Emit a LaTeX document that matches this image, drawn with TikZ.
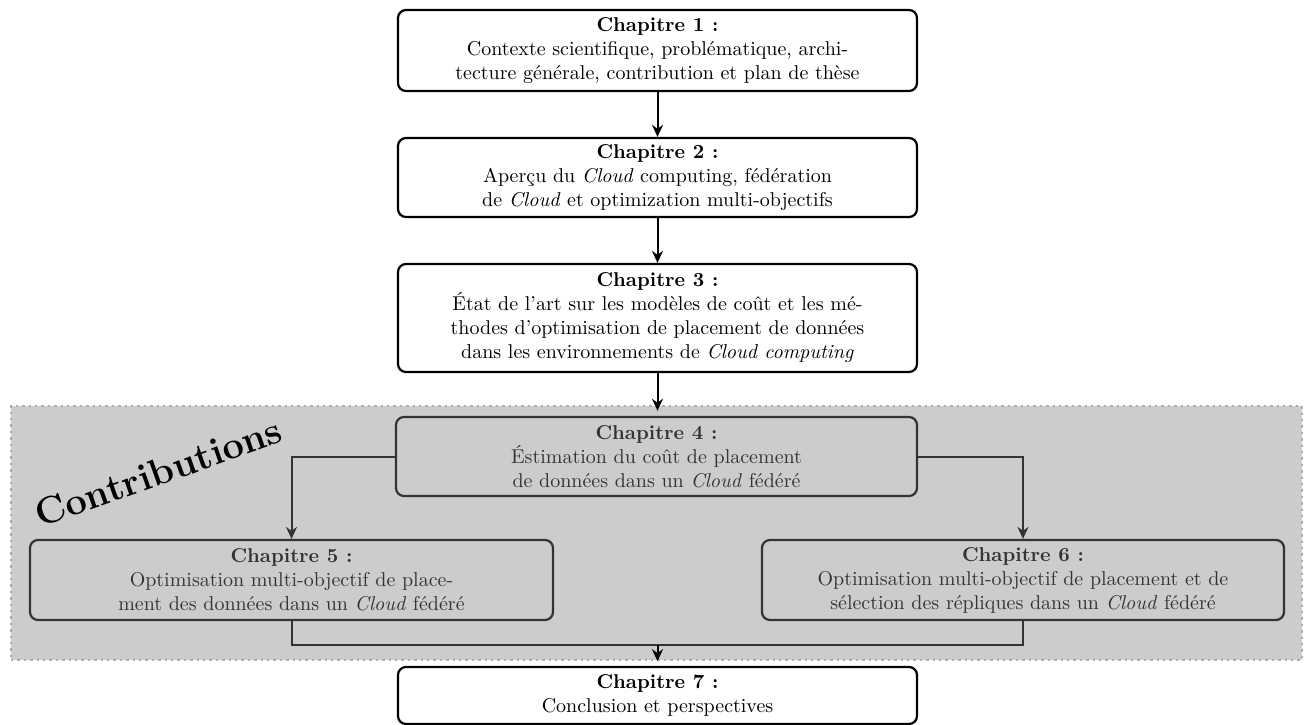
\documentclass[tikz,border=0pt]{standalone}
\usepackage{fontspec}
\usetikzlibrary{arrows.meta}

\tikzset{
  chapbox/.style={draw=black, line width=1.1pt, rounded corners=4pt, fill=white,
    align=center, inner sep=2pt},
  link/.style={line width=1pt, -{Stealth[length=6pt,width=5.5pt]}},
  joint/.style={line width=1pt},
  shade/.style={draw=gray!65, dotted, line width=1.2pt, fill=gray, fill opacity=0.4,
    inner sep=0pt},
}

\begin{document}
\begin{tikzpicture}[x=0.5pt, y=-0.5pt]
\useasboundingbox (0,0) rectangle (1307,724);

% main chain of chapters
\node[chapbox, minimum width=259.5pt, minimum height=40.5pt] (c1) at (657.5,50.5)
  {\textbf{Chapitre 1 :}\\Contexte scientifique, problématique, archi-\\tecture générale, contribution et plan de thèse};
\node[chapbox, minimum width=259.5pt, minimum height=39.5pt] (c2) at (657.5,177.5)
  {\textbf{Chapitre 2 :}\\Aperçu du \emph{Cloud} computing, fédération\\de \emph{Cloud} et optimization multi-objectifs};
\node[chapbox, minimum width=259.5pt, minimum height=54pt] (c3) at (657.5,318)
  {\textbf{Chapitre 3 :}\\État de l'art sur les modèles de coût et les mé-\\thodes d'optimisation de placement de données\\dans les environnements de \emph{Cloud computing}};

% contribution chapters
\node[chapbox, minimum width=260.5pt, minimum height=39.5pt] (c4) at (656.5,456.5)
  {\textbf{Chapitre 4 :}\\Éstimation du coût de placement\\de données dans un \emph{Cloud} fédéré};
\node[chapbox, minimum width=261.5pt, minimum height=40pt] (c5) at (291.5,580)
  {\textbf{Chapitre 5 :}\\Optimisation multi-objectif de place-\\ment des données dans un \emph{Cloud} fédéré};
\node[chapbox, minimum width=261pt, minimum height=40pt] (c6) at (1023,580)
  {\textbf{Chapitre 6 :}\\Optimisation multi-objectif de placement et de\\sélection des répliques dans un \emph{Cloud} fédéré};

\node[chapbox, minimum width=259.5pt, minimum height=28.5pt] (c7) at (657.5,695.5)
  {\textbf{Chapitre 7 :}\\Conclusion et perspectives};

\coordinate (merge) at (657.5,645);

\draw[link] (c1) -- (c2);
\draw[link] (c2) -- (c3);
\draw[link] (c4.west) -| (c5.north);
\draw[link] (c4.east) -| (c6.north);
\draw[joint] (c5.south) |- (merge);
\draw[joint] (c6.south) |- (merge);

% shaded contributions area
\node[shade, minimum width=645.5pt, minimum height=127pt] (zone) at (656.5,533) {};

\draw[link] (merge) -- (merge |- zone.south);
\draw[link] (c3.south) -- ([yshift=-3pt]c3.south |- zone.north);

\node[rotate=19.5, anchor=base west, font=\fontsize{19}{21}\selectfont\bfseries] (contrib)
  at (34,530) {Contributions};
\end{tikzpicture}
\end{document}
